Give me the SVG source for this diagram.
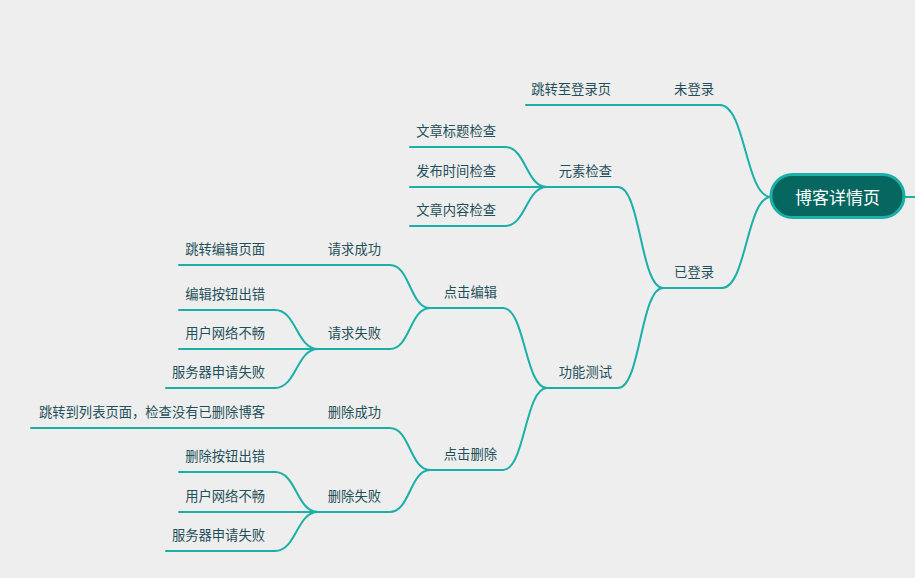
<svg xmlns="http://www.w3.org/2000/svg" width="915" height="578" viewBox="0 0 915 578">
<style>
.bg{fill:#eeeeee}
.ln{fill:none;stroke:#1bb0a7;stroke-width:2;stroke-linecap:round}
.t{font-family:"Noto Sans CJK SC","Liberation Sans",sans-serif;font-size:13.3px;fill:#1f4f59;text-anchor:end}
.rt{font-family:"Noto Sans CJK SC","Liberation Sans",sans-serif;font-size:17px;fill:#ffffff;text-anchor:middle}
.root{fill:#05675f;stroke:#1bb0a7;stroke-width:3}
</style>
<rect class="bg" x="0" y="0" width="915" height="578"/>
<g id="connectors">
<path class="ln" d="M904 197 H915"/>
<path class="ln" d="M720 105 C745.5 105 745.5 197 771 197"/>
<path class="ln" d="M722 288 C746.5 288 746.5 197 771 197"/>
<path class="ln" d="M618 187 C640.5 187 640.5 288 663 288"/>
<path class="ln" d="M618 388 C640.5 388 640.5 288 663 288"/>
<path class="ln" d="M505 147 C526 147 526 187 547 187"/>
<path class="ln" d="M505 226 C526 226 526 187 547 187"/>
<path class="ln" d="M503 308 C525 308 525 388 547 388"/>
<path class="ln" d="M503 470 C525 470 525 388 547 388"/>
<path class="ln" d="M390 265 C410 265 410 308 430 308"/>
<path class="ln" d="M390 349 C410 349 410 308 430 308"/>
<path class="ln" d="M275 310 C296.5 310 296.5 349 318 349"/>
<path class="ln" d="M275 388 C296.5 388 296.5 349 318 349"/>
<path class="ln" d="M390 428 C410 428 410 470 430 470"/>
<path class="ln" d="M390 512 C410 512 410 470 430 470"/>
<path class="ln" d="M275 472 C296.5 472 296.5 512 318 512"/>
<path class="ln" d="M275 551 C296.5 551 296.5 512 318 512"/>
</g>
<g id="root"><rect class="root" x="771" y="174.5" width="133" height="43" rx="21.5"/><text class="rt" x="837.5" y="204">博客详情页</text></g>
<g id="n-weidenglu"><path class="ln" d="M663 105 H720"/><text class="t" x="714" y="94">未登录</text></g>
<g id="n-tiaozhuan-denglu"><path class="ln" d="M526 105 H663"/><text class="t" x="611" y="94">跳转至登录页</text></g>
<g id="n-yidenglu"><path class="ln" d="M663 288 H722"/><text class="t" x="714" y="277">已登录</text></g>
<g id="n-yuansu"><path class="ln" d="M547 187 H618"/><text class="t" x="612" y="176">元素检查</text></g>
<g id="n-biaoti"><path class="ln" d="M410 147 H505"/><text class="t" x="496" y="136">文章标题检查</text></g>
<g id="n-shijian"><path class="ln" d="M410 187 H547"/><text class="t" x="496" y="176">发布时间检查</text></g>
<g id="n-neirong"><path class="ln" d="M410 226 H505"/><text class="t" x="496" y="215">文章内容检查</text></g>
<g id="n-gongneng"><path class="ln" d="M547 388 H618"/><text class="t" x="612" y="377">功能测试</text></g>
<g id="n-bianji"><path class="ln" d="M430 308 H503"/><text class="t" x="497" y="297">点击编辑</text></g>
<g id="n-qiuchenggong"><path class="ln" d="M318 265 H390"/><text class="t" x="381" y="254">请求成功</text></g>
<g id="n-tiaozhuan-bianji"><path class="ln" d="M179 265 H318"/><text class="t" x="265" y="254">跳转编辑页面</text></g>
<g id="n-qiushibai"><path class="ln" d="M318 349 H390"/><text class="t" x="381" y="338">请求失败</text></g>
<g id="n-bianji-cuo"><path class="ln" d="M179 310 H275"/><text class="t" x="265" y="299">编辑按钮出错</text></g>
<g id="n-wangluo1"><path class="ln" d="M179 349 H318"/><text class="t" x="265" y="338">用户网络不畅</text></g>
<g id="n-fuwuqi1"><path class="ln" d="M166 388 H275"/><text class="t" x="265" y="377">服务器申请失败</text></g>
<g id="n-shanchu"><path class="ln" d="M430 470 H503"/><text class="t" x="497" y="459">点击删除</text></g>
<g id="n-shanchenggong"><path class="ln" d="M318 428 H390"/><text class="t" x="381" y="417">删除成功</text></g>
<g id="n-liebiao"><path class="ln" d="M31 428 H318"/><text class="t" x="265" y="417">跳转到列表页面，检查没有已删除博客</text></g>
<g id="n-shanshibai"><path class="ln" d="M318 512 H390"/><text class="t" x="381" y="501">删除失败</text></g>
<g id="n-shanchu-cuo"><path class="ln" d="M179 472 H275"/><text class="t" x="265" y="461">删除按钮出错</text></g>
<g id="n-wangluo2"><path class="ln" d="M179 512 H318"/><text class="t" x="265" y="501">用户网络不畅</text></g>
<g id="n-fuwuqi2"><path class="ln" d="M166 551 H275"/><text class="t" x="265" y="540">服务器申请失败</text></g>
</svg>
